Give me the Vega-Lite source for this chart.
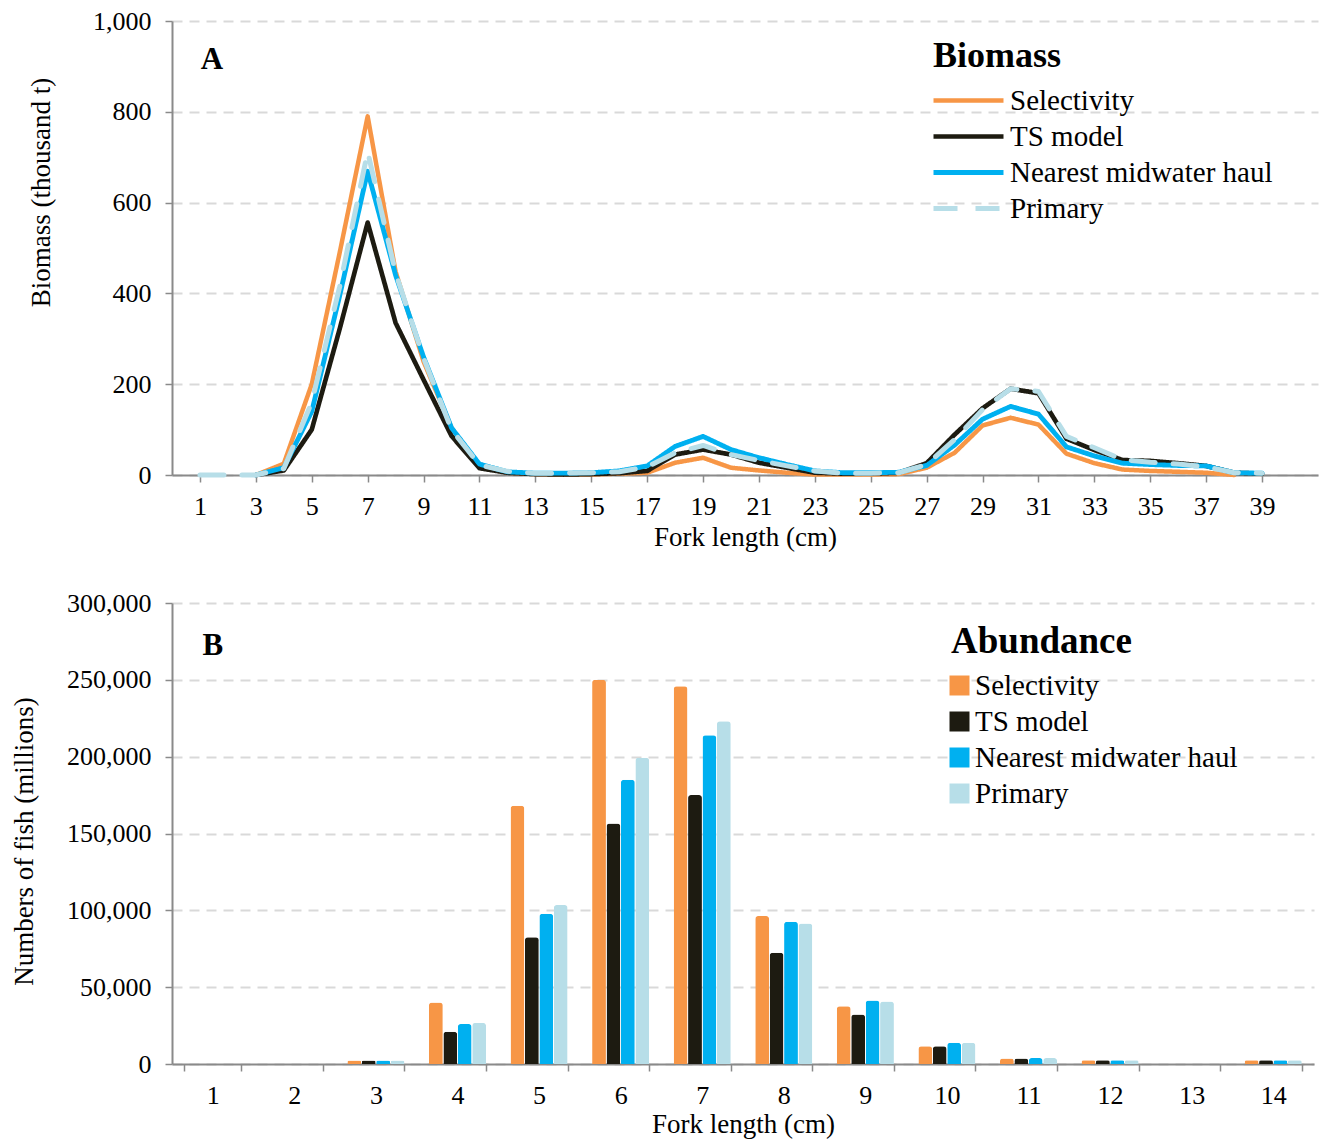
{
  "$schema": "https://vega.github.io/schema/vega-lite/v6.json",
  "background": "white",
  "padding": {"left": 9, "top": 8, "right": 2, "bottom": 2},
  "bounds": "flush",
  "spacing": 128,
  "config": {
    "font": "Liberation Serif",
    "view": {"stroke": null},
    "axis": {
      "labelFont": "Liberation Serif",
      "labelFontSize": 26,
      "labelColor": "#000000",
      "titleFont": "Liberation Serif",
      "titleFontSize": 27,
      "titleFontWeight": "normal",
      "titleColor": "#000000",
      "domainColor": "#8A8A8A",
      "domainWidth": 2,
      "tickColor": "#8A8A8A",
      "tickWidth": 1.5,
      "tickSize": 7,
      "gridColor": "#D9D9D9",
      "gridDash": [10, 7],
      "gridWidth": 2
    },
    "legend": {
      "titleFont": "Liberation Serif",
      "labelFont": "Liberation Serif",
      "titleColor": "#000000",
      "labelColor": "#000000",
      "titleFontWeight": "bold",
      "labelLimit": 0,
      "titleLimit": 0,
      "padding": 0
    }
  },
  "vconcat": [
    {
      "width": 1146,
      "height": 454,
      "data": {
        "values": [
          {"len": 1, "series": "Primary", "t": 0},
          {"len": 2, "series": "Primary", "t": 0},
          {"len": 3, "series": "Selectivity", "t": 0}, {"len": 3, "series": "TS model", "t": 0}, {"len": 3, "series": "Nearest midwater haul", "t": 0}, {"len": 3, "series": "Primary", "t": 0},
          {"len": 4, "series": "Selectivity", "t": 25}, {"len": 4, "series": "TS model", "t": 10}, {"len": 4, "series": "Nearest midwater haul", "t": 16}, {"len": 4, "series": "Primary", "t": 14},
          {"len": 5, "series": "Selectivity", "t": 200}, {"len": 5, "series": "TS model", "t": 100}, {"len": 5, "series": "Nearest midwater haul", "t": 140}, {"len": 5, "series": "Primary", "t": 160},
          {"len": 6, "series": "Selectivity", "t": 490}, {"len": 6, "series": "TS model", "t": 322}, {"len": 6, "series": "Nearest midwater haul", "t": 395}, {"len": 6, "series": "Primary", "t": 415},
          {"len": 7, "series": "Selectivity", "t": 790}, {"len": 7, "series": "TS model", "t": 556}, {"len": 7, "series": "Nearest midwater haul", "t": 669}, {"len": 7, "series": "Primary", "t": 712},
          {"len": 8, "series": "Selectivity", "t": 448}, {"len": 8, "series": "TS model", "t": 335}, {"len": 8, "series": "Nearest midwater haul", "t": 440}, {"len": 8, "series": "Primary", "t": 445},
          {"len": 9, "series": "Selectivity", "t": 250}, {"len": 9, "series": "TS model", "t": 210}, {"len": 9, "series": "Nearest midwater haul", "t": 260}, {"len": 9, "series": "Primary", "t": 258},
          {"len": 10, "series": "Selectivity", "t": 104}, {"len": 10, "series": "TS model", "t": 86}, {"len": 10, "series": "Nearest midwater haul", "t": 104}, {"len": 10, "series": "Primary", "t": 100},
          {"len": 11, "series": "Selectivity", "t": 18}, {"len": 11, "series": "TS model", "t": 15}, {"len": 11, "series": "Nearest midwater haul", "t": 24}, {"len": 11, "series": "Primary", "t": 22},
          {"len": 12, "series": "Selectivity", "t": 5}, {"len": 12, "series": "TS model", "t": 5}, {"len": 12, "series": "Nearest midwater haul", "t": 7}, {"len": 12, "series": "Primary", "t": 8},
          {"len": 13, "series": "Selectivity", "t": 2}, {"len": 13, "series": "TS model", "t": 2}, {"len": 13, "series": "Nearest midwater haul", "t": 4}, {"len": 13, "series": "Primary", "t": 4},
          {"len": 14, "series": "Selectivity", "t": 1}, {"len": 14, "series": "TS model", "t": 1}, {"len": 14, "series": "Nearest midwater haul", "t": 4}, {"len": 14, "series": "Primary", "t": 4},
          {"len": 15, "series": "Selectivity", "t": 1}, {"len": 15, "series": "TS model", "t": 2}, {"len": 15, "series": "Nearest midwater haul", "t": 5}, {"len": 15, "series": "Primary", "t": 5},
          {"len": 16, "series": "Selectivity", "t": 3}, {"len": 16, "series": "TS model", "t": 4}, {"len": 16, "series": "Nearest midwater haul", "t": 9}, {"len": 16, "series": "Primary", "t": 7},
          {"len": 17, "series": "Selectivity", "t": 5}, {"len": 17, "series": "TS model", "t": 9}, {"len": 17, "series": "Nearest midwater haul", "t": 20}, {"len": 17, "series": "Primary", "t": 18},
          {"len": 18, "series": "Selectivity", "t": 27}, {"len": 18, "series": "TS model", "t": 45}, {"len": 18, "series": "Nearest midwater haul", "t": 63}, {"len": 18, "series": "Primary", "t": 49},
          {"len": 19, "series": "Selectivity", "t": 38}, {"len": 19, "series": "TS model", "t": 56}, {"len": 19, "series": "Nearest midwater haul", "t": 85}, {"len": 19, "series": "Primary", "t": 65},
          {"len": 20, "series": "Selectivity", "t": 16}, {"len": 20, "series": "TS model", "t": 45}, {"len": 20, "series": "Nearest midwater haul", "t": 56}, {"len": 20, "series": "Primary", "t": 45},
          {"len": 21, "series": "Selectivity", "t": 10}, {"len": 21, "series": "TS model", "t": 27}, {"len": 21, "series": "Nearest midwater haul", "t": 38}, {"len": 21, "series": "Primary", "t": 32},
          {"len": 22, "series": "Selectivity", "t": 5}, {"len": 22, "series": "TS model", "t": 16}, {"len": 22, "series": "Nearest midwater haul", "t": 23}, {"len": 22, "series": "Primary", "t": 20},
          {"len": 23, "series": "Selectivity", "t": 1}, {"len": 23, "series": "TS model", "t": 5}, {"len": 23, "series": "Nearest midwater haul", "t": 9}, {"len": 23, "series": "Primary", "t": 9},
          {"len": 24, "series": "Selectivity", "t": 1}, {"len": 24, "series": "TS model", "t": 3}, {"len": 24, "series": "Nearest midwater haul", "t": 5}, {"len": 24, "series": "Primary", "t": 4},
          {"len": 25, "series": "Selectivity", "t": 1}, {"len": 25, "series": "TS model", "t": 3}, {"len": 25, "series": "Nearest midwater haul", "t": 5}, {"len": 25, "series": "Primary", "t": 4},
          {"len": 26, "series": "Selectivity", "t": 2}, {"len": 26, "series": "TS model", "t": 5}, {"len": 26, "series": "Nearest midwater haul", "t": 6}, {"len": 26, "series": "Primary", "t": 5},
          {"len": 27, "series": "Selectivity", "t": 16}, {"len": 27, "series": "TS model", "t": 26}, {"len": 27, "series": "Nearest midwater haul", "t": 21}, {"len": 27, "series": "Primary", "t": 23},
          {"len": 28, "series": "Selectivity", "t": 49}, {"len": 28, "series": "TS model", "t": 89}, {"len": 28, "series": "Nearest midwater haul", "t": 66}, {"len": 28, "series": "Primary", "t": 78},
          {"len": 29, "series": "Selectivity", "t": 109}, {"len": 29, "series": "TS model", "t": 147}, {"len": 29, "series": "Nearest midwater haul", "t": 123}, {"len": 29, "series": "Primary", "t": 144},
          {"len": 30, "series": "Selectivity", "t": 126}, {"len": 30, "series": "TS model", "t": 190}, {"len": 30, "series": "Nearest midwater haul", "t": 151}, {"len": 30, "series": "Primary", "t": 190},
          {"len": 31, "series": "Selectivity", "t": 111}, {"len": 31, "series": "TS model", "t": 180}, {"len": 31, "series": "Nearest midwater haul", "t": 134}, {"len": 31, "series": "Primary", "t": 184},
          {"len": 32, "series": "Selectivity", "t": 47}, {"len": 32, "series": "TS model", "t": 80}, {"len": 32, "series": "Nearest midwater haul", "t": 62}, {"len": 32, "series": "Primary", "t": 85},
          {"len": 33, "series": "Selectivity", "t": 26}, {"len": 33, "series": "TS model", "t": 55}, {"len": 33, "series": "Nearest midwater haul", "t": 42}, {"len": 33, "series": "Primary", "t": 60},
          {"len": 34, "series": "Selectivity", "t": 12}, {"len": 34, "series": "TS model", "t": 33}, {"len": 34, "series": "Nearest midwater haul", "t": 26}, {"len": 34, "series": "Primary", "t": 34},
          {"len": 35, "series": "Selectivity", "t": 9}, {"len": 35, "series": "TS model", "t": 31}, {"len": 35, "series": "Nearest midwater haul", "t": 23}, {"len": 35, "series": "Primary", "t": 28},
          {"len": 36, "series": "Selectivity", "t": 7}, {"len": 36, "series": "TS model", "t": 26}, {"len": 36, "series": "Nearest midwater haul", "t": 21}, {"len": 36, "series": "Primary", "t": 24},
          {"len": 37, "series": "Selectivity", "t": 5}, {"len": 37, "series": "TS model", "t": 20}, {"len": 37, "series": "Nearest midwater haul", "t": 20}, {"len": 37, "series": "Primary", "t": 18},
          {"len": 38, "series": "Selectivity", "t": 0}, {"len": 38, "series": "TS model", "t": 5}, {"len": 38, "series": "Nearest midwater haul", "t": 5}, {"len": 38, "series": "Primary", "t": 5},
          {"len": 39, "series": "TS model", "t": 3}, {"len": 39, "series": "Nearest midwater haul", "t": 4}, {"len": 39, "series": "Primary", "t": 4}
        ]
      },
      "layer": [
        {
          "encoding": {
            "x": {
              "field": "len", "type": "quantitative",
              "scale": {"domain": [0, 41], "nice": false, "zero": false},
              "axis": {
                "title": "Fork length (cm)",
                "values": [1,2,3,4,5,6,7,8,9,10,11,12,13,14,15,16,17,18,19,20,21,22,23,24,25,26,27,28,29,30,31,32,33,34,35,36,37,38,39,40],
                "labelExpr": "datum.value % 2 == 1 ? datum.label : ''",
                "grid": false,
                "labelPadding": 11,
                "titlePadding": 5,
                "labelFlush": false,
                "labelOverlap": false
              }
            },
            "y": {
              "field": "t", "type": "quantitative",
              "scale": {"domain": [0, 1000], "nice": false},
              "axis": {
                "title": "Biomass (thousand t)",
                "values": [0, 200, 400, 600, 800, 1000],
                "format": ",.0f",
                "labelPadding": 14,
                "titleX": -131,
                "titleY": 171,
                "titleBaseline": "middle",
                "titleAlign": "center",
                "titleAngle": -90
              }
            },
            "color": {
              "field": "series", "type": "nominal",
              "scale": {
                "domain": ["Selectivity", "TS model", "Nearest midwater haul", "Primary"],
                "range": ["#F79646", "#1D1B11", "#00B0F0", "#B7DEE8"]
              },
              "legend": {
                "title": "Biomass",
                "orient": "none",
                "legendX": 761,
                "legendY": 18,
                "titleFontSize": 36,
                "labelFontSize": 29,
                "symbolType": "M-5,0H5",
                "symbolSize": 196,
                "symbolStrokeWidth": 5,
                "symbolOffset": 21,
                "rowPadding": 6,
                "labelOffset": 27,
                "titlePadding": 11
              }
            },
            "strokeDash": {
              "field": "series", "type": "nominal",
              "scale": {
                "domain": ["Selectivity", "TS model", "Nearest midwater haul", "Primary"],
                "range": [[1, 0], [1, 0], [1, 0], [24, 18]]
              },
              "legend": {
                "title": "Biomass",
                "orient": "none",
                "legendX": 761,
                "legendY": 18
              }
            },
            "strokeWidth": {
              "field": "series", "type": "nominal",
              "scale": {
                "domain": ["Selectivity", "TS model", "Nearest midwater haul", "Primary"],
                "range": [4.5, 5, 5, 6.5]
              },
              "legend": null
            }
          },
          "layer": [
            {
              "transform": [{"filter": "datum.series == 'Selectivity'"}],
              "mark": {"type": "line", "strokeCap": "round", "strokeJoin": "round"}
            },
            {
              "transform": [{"filter": "datum.series == 'TS model'"}],
              "mark": {"type": "line", "strokeCap": "round", "strokeJoin": "round"}
            },
            {
              "transform": [{"filter": "datum.series == 'Nearest midwater haul'"}],
              "mark": {"type": "line", "strokeCap": "round", "strokeJoin": "round"}
            },
            {
              "transform": [{"filter": "datum.series == 'Primary'"}],
              "mark": {"type": "line", "strokeCap": "round", "strokeJoin": "round"}
            }
          ]
        },
        {
          "data": {"values": [{"tag": "A"}]},
          "mark": {"type": "text", "fontSize": 31, "fontWeight": "bold", "font": "Liberation Serif", "color": "#000000", "align": "center", "baseline": "middle"},
          "encoding": {
            "x": {"datum": 1.43, "type": "quantitative"},
            "y": {"datum": 914, "type": "quantitative"},
            "text": {"field": "tag", "type": "nominal"}
          }
        }
      ]
    },
    {
      "width": 1142,
      "height": 461,
      "data": {
        "values": [
          {"len": 3, "series": "Selectivity", "n": 2300}, {"len": 3, "series": "TS model", "n": 2300}, {"len": 3, "series": "Nearest midwater haul", "n": 2300}, {"len": 3, "series": "Primary", "n": 2300},
          {"len": 4, "series": "Selectivity", "n": 40000}, {"len": 4, "series": "TS model", "n": 21000}, {"len": 4, "series": "Nearest midwater haul", "n": 26000}, {"len": 4, "series": "Primary", "n": 26700},
          {"len": 5, "series": "Selectivity", "n": 168000}, {"len": 5, "series": "TS model", "n": 82500}, {"len": 5, "series": "Nearest midwater haul", "n": 97800}, {"len": 5, "series": "Primary", "n": 103400},
          {"len": 6, "series": "Selectivity", "n": 250000}, {"len": 6, "series": "TS model", "n": 156500}, {"len": 6, "series": "Nearest midwater haul", "n": 185000}, {"len": 6, "series": "Primary", "n": 199300},
          {"len": 7, "series": "Selectivity", "n": 245800}, {"len": 7, "series": "TS model", "n": 175000}, {"len": 7, "series": "Nearest midwater haul", "n": 214000}, {"len": 7, "series": "Primary", "n": 223000},
          {"len": 8, "series": "Selectivity", "n": 96300}, {"len": 8, "series": "TS model", "n": 72400}, {"len": 8, "series": "Nearest midwater haul", "n": 92600}, {"len": 8, "series": "Primary", "n": 91500},
          {"len": 9, "series": "Selectivity", "n": 37600}, {"len": 9, "series": "TS model", "n": 32200}, {"len": 9, "series": "Nearest midwater haul", "n": 41300}, {"len": 9, "series": "Primary", "n": 40650},
          {"len": 10, "series": "Selectivity", "n": 11500}, {"len": 10, "series": "TS model", "n": 11500}, {"len": 10, "series": "Nearest midwater haul", "n": 13900}, {"len": 10, "series": "Primary", "n": 13900},
          {"len": 11, "series": "Selectivity", "n": 3500}, {"len": 11, "series": "TS model", "n": 3500}, {"len": 11, "series": "Nearest midwater haul", "n": 3900}, {"len": 11, "series": "Primary", "n": 3900},
          {"len": 12, "series": "Selectivity", "n": 2400}, {"len": 12, "series": "TS model", "n": 2400}, {"len": 12, "series": "Nearest midwater haul", "n": 2400}, {"len": 12, "series": "Primary", "n": 2400},
          {"len": 14, "series": "Selectivity", "n": 2400}, {"len": 14, "series": "TS model", "n": 2400}, {"len": 14, "series": "Nearest midwater haul", "n": 2400}, {"len": 14, "series": "Primary", "n": 2400}
        ]
      },
      "layer": [
        {
          "mark": {"type": "bar", "cornerRadiusEnd": 3},
          "encoding": {
            "x": {
              "field": "len", "type": "ordinal",
              "scale": {"domain": [1,2,3,4,5,6,7,8,9,10,11,12,13,14], "paddingInner": 0.3, "paddingOuter": 0.15},
              "axis": {
                "title": "Fork length (cm)",
                "labelAngle": 0,
                "tickBand": "extent",
                "labelPadding": 11,
                "titlePadding": 3
              }
            },
            "xOffset": {
              "field": "series", "type": "nominal",
              "scale": {"domain": ["Selectivity", "TS model", "Nearest midwater haul", "Primary"], "paddingInner": 0.04}
            },
            "y": {
              "field": "n", "type": "quantitative",
              "scale": {"domain": [0, 300000], "nice": false},
              "axis": {
                "title": "Numbers of fish (millions)",
                "values": [0, 50000, 100000, 150000, 200000, 250000, 300000],
                "format": ",.0f",
                "labelPadding": 14,
                "titleX": -148,
                "titleY": 238,
                "titleBaseline": "middle",
                "titleAlign": "center",
                "titleAngle": -90
              }
            },
            "color": {
              "field": "series", "type": "nominal",
              "scale": {
                "domain": ["Selectivity", "TS model", "Nearest midwater haul", "Primary"],
                "range": ["#F79646", "#1D1B11", "#00B0F0", "#B7DEE8"]
              },
              "legend": {
                "title": "Abundance",
                "orient": "none",
                "legendX": 779,
                "legendY": 21,
                "titleFontSize": 37,
                "labelFontSize": 29,
                "symbolType": "square",
                "symbolSize": 400,
                "symbolStrokeWidth": 0,
                "symbolOffset": -6,
                "rowPadding": 6,
                "labelOffset": 1,
                "titlePadding": 10
              }
            }
          }
        },
        {
          "data": {"values": [{"tag": "B"}]},
          "mark": {"type": "text", "fontSize": 31, "fontWeight": "bold", "font": "Liberation Serif", "color": "#000000", "align": "center", "baseline": "middle"},
          "encoding": {
            "x": {"datum": 1, "type": "ordinal"},
            "y": {"datum": 272000, "type": "quantitative"},
            "text": {"field": "tag", "type": "nominal"}
          }
        }
      ],
      "resolve": {"scale": {"color": "independent"}}
    }
  ],
  "resolve": {"scale": {"color": "independent", "strokeDash": "independent", "strokeWidth": "independent"}, "legend": {"color": "independent"}}
}
